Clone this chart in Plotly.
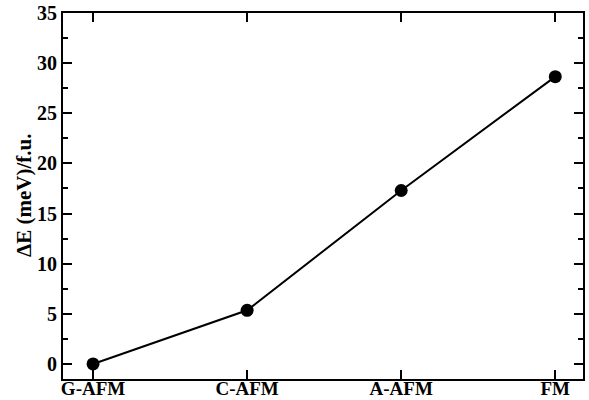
import plotly.graph_objects as go

categories = ["G-AFM", "C-AFM", "A-AFM", "FM"]
delta_e = [0.0, 5.35, 17.3, 28.65]
y_title = "ΔE (meV)/f.u."
y_major = [0, 5, 10, 15, 20, 25, 30, 35]
y_minor = [2.5, 7.5, 12.5, 17.5, 22.5, 27.5, 32.5]

font_family = "Liberation Serif, Times New Roman, serif"
bold_font = dict(family=font_family, size=20, color="black", weight="bold")
xtick_font = dict(family=font_family, size=19, color="black", weight="bold")
title_font = dict(family=font_family, size=21, color="black", weight="bold")

fig = go.Figure()
fig.add_trace(go.Scatter(
    x=categories, y=delta_e, mode="lines+markers",
    line=dict(color="black", width=2),
    marker=dict(color="black", size=13),
    showlegend=False,
))
# invisible trace to activate the right-hand mirrored axis
fig.add_trace(go.Scatter(
    x=categories, y=delta_e, yaxis="y2", mode="markers",
    marker=dict(opacity=0), hoverinfo="skip", showlegend=False,
))

fig.update_layout(
    width=589, height=400,
    margin=dict(l=63, r=6, t=13, b=21, autoexpand=False),
    plot_bgcolor="white", paper_bgcolor="white",
    font=bold_font,
    xaxis=dict(
        type="category", range=[-0.195, 3.18], automargin=False,
        showline=True, linecolor="black", linewidth=2, mirror="ticks",
        ticks="inside", ticklen=9, tickwidth=1.5, tickcolor="black",
        ticklabelstandoff=-9,
        showgrid=False, zeroline=False, tickfont=xtick_font,
    ),
    yaxis=dict(
        range=[-1.5, 35], tickvals=y_major, automargin=False,
        showline=True, linecolor="black", linewidth=2, mirror=True,
        ticks="inside", ticklen=9, tickwidth=1.5, tickcolor="black",
        minor=dict(tickvals=y_minor, ticks="inside", ticklen=5,
                   tickwidth=1.5, tickcolor="black"),
        showgrid=False, zeroline=False, tickfont=bold_font,
    ),
    yaxis2=dict(
        overlaying="y", side="right", range=[-1.5, 35], automargin=False,
        tickvals=y_major, showticklabels=False,
        ticks="inside", ticklen=9, tickwidth=1.5, tickcolor="black",
        minor=dict(tickvals=y_minor, ticks="inside", ticklen=5,
                   tickwidth=1.5, tickcolor="black"),
        showgrid=False, zeroline=False, showline=False,
    ),
    annotations=[dict(
        text=y_title, textangle=-90, xref="paper", yref="paper",
        x=-0.075, y=0.5, xanchor="center", yanchor="middle",
        showarrow=False, font=title_font,
    )],
)

fig.write_html("out.html")
